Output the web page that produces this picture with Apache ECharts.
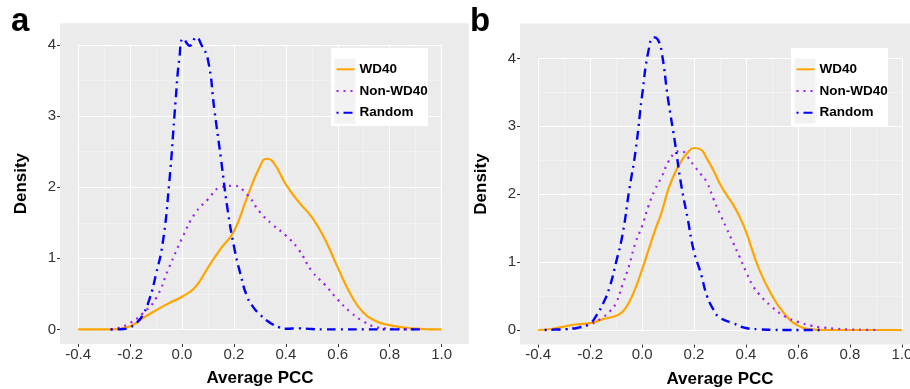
<!DOCTYPE html>
<html><head><meta charset="utf-8">
<script src="https://cdn.jsdelivr.net/npm/echarts@6/dist/echarts.min.js"></script>
<style>html,body{margin:0;padding:0;background:#fff}#c{width:910px;height:389px}</style>
</head><body><div id="c"></div>
<script>
// ---- data ----
const seriesNames = ['WD40', 'Non-WD40', 'Random'];
const xTicks = [-0.4, -0.2, 0, 0.2, 0.4, 0.6, 0.8, 1.0];
const yTicks = [0, 1, 2, 3, 4];
const panelLabels = ['a', 'b'];
const xTitle = 'Average PCC';
const yTitle = 'Density';

// panel a
const aWD40X = [-0.4,-0.35,-0.3,-0.25,-0.2,-0.15,-0.1,-0.05,0,0.05,0.1,0.15,0.2,0.25,0.3,0.325,0.35,0.4,0.45,0.5,0.55,0.6,0.65,0.7,0.75,0.8,0.85,0.9,0.95,1.0];
const aWD40Y = [0,0,0,0.005,0.045,0.16,0.27,0.37,0.46,0.59,0.87,1.14,1.38,1.85,2.29,2.40,2.36,2.04,1.79,1.58,1.27,0.87,0.49,0.23,0.11,0.06,0.03,0.01,0.002,0];
const aNonX = [-0.275,-0.25,-0.2,-0.15,-0.1,-0.05,0,0.05,0.1,0.15,0.2,0.25,0.3,0.35,0.4,0.45,0.5,0.55,0.6,0.65,0.7,0.75,0.8,0.85,0.9];
const aNonY = [0,0.015,0.09,0.23,0.44,0.87,1.28,1.63,1.83,2.0,2.02,1.9,1.65,1.47,1.32,1.12,0.82,0.63,0.42,0.24,0.11,0.03,0.01,0.003,0];
const aRandX = [-0.275,-0.25,-0.225,-0.2,-0.175,-0.15,-0.125,-0.1,-0.075,-0.05,-0.025,-0.01,0.005,0.03,0.055,0.075,0.1,0.125,0.15,0.175,0.2,0.225,0.25,0.275,0.3,0.325,0.35,0.375,0.4,0.45,0.5,0.55,0.6,0.7,0.8,0.9,0.925];
const aRandY = [0,0,0.005,0.03,0.09,0.21,0.43,0.78,1.2,2.03,3.2,3.82,4.09,3.99,4.11,4.0,3.79,3.08,2.4,1.7,1.17,0.78,0.47,0.31,0.21,0.13,0.07,0.03,0.01,0.015,0.005,0,0,0,0,0,0];

// panel b
const bWD40X = [-0.4,-0.35,-0.3,-0.25,-0.2,-0.15,-0.1,-0.075,-0.05,-0.025,0,0.025,0.05,0.075,0.1,0.125,0.15,0.175,0.2,0.225,0.25,0.275,0.3,0.325,0.35,0.375,0.4,0.45,0.5,0.55,0.6,0.65,0.7,0.8,0.9,1.0];
const bWD40Y = [0,0.015,0.05,0.085,0.1,0.16,0.21,0.27,0.41,0.62,0.89,1.18,1.47,1.73,2.06,2.3,2.48,2.61,2.68,2.66,2.52,2.35,2.15,1.99,1.85,1.67,1.45,0.9,0.51,0.23,0.065,0.01,0,0,0,0];
const bNonX = [-0.35,-0.3,-0.25,-0.2,-0.15,-0.125,-0.1,-0.075,-0.05,-0.025,0,0.025,0.05,0.075,0.1,0.125,0.15,0.175,0.2,0.225,0.25,0.275,0.3,0.325,0.35,0.375,0.4,0.425,0.45,0.5,0.55,0.6,0.65,0.7,0.75,0.8,0.85,0.9];
const bNonY = [0,0.01,0.04,0.08,0.19,0.27,0.4,0.67,0.95,1.29,1.53,1.83,2.07,2.25,2.47,2.6,2.64,2.55,2.42,2.3,2.17,1.93,1.71,1.5,1.29,1.08,0.86,0.665,0.53,0.34,0.2,0.12,0.065,0.035,0.017,0.008,0.003,0];
const bRandX = [-0.375,-0.35,-0.3,-0.25,-0.2,-0.175,-0.15,-0.125,-0.1,-0.075,-0.05,-0.025,0,0.025,0.045,0.06,0.075,0.1,0.125,0.15,0.175,0.2,0.225,0.25,0.275,0.3,0.35,0.4,0.45,0.5,0.55,0.6,0.7];
const bRandY = [0,0.005,0.01,0.03,0.1,0.22,0.39,0.63,1.0,1.41,2.05,2.64,3.45,4.12,4.31,4.28,4.1,3.4,2.8,2.15,1.65,1.15,0.85,0.5,0.3,0.18,0.1,0.03,0.01,0.003,0,0,0];

// ---- styling / layout ----
const FONT = 'Liberation Sans, Arial, Helvetica, sans-serif';
const colors = ['#FFA500', '#A020F0', '#0000FF'];
const lineStyles = [
  {width: 2.2, type: 'solid'},
  {width: 2.2, type: [2, 5]},
  {width: 2.4, type: [2, 5, 9, 5]}
];
const panels = [
  {left: 60, top: 23.3, width: 409, height: 320.7, xmin: -0.47, xmax: 1.1055, ymin: -0.205, ymax: 4.305,
   data: [[aWD40X, aWD40Y], [aNonX, aNonY], [aRandX, aRandY]], legendLeft: 331, label: panelLabels[0], labelX: 11, namePad: [0, 9, 0, 0]},
  {left: 520, top: 23.4, width: 400, height: 321.2, xmin: -0.47, xmax: 1.07, ymin: -0.215, ymax: 4.515,
   data: [[bWD40X, bWD40Y], [bNonX, bNonY], [bRandX, bRandY]], legendLeft: 791, label: panelLabels[1], labelX: 470, namePad: [0, 0, 0, 0]}
];

const zip = (xs, ys) => xs.map((x, i) => [x, ys[i]]);

const grid = [], xAxis = [], yAxis = [], series = [], legend = [], graphic = [];
panels.forEach((p, pi) => {
  const outer = pi * 2, inner = pi * 2 + 1;
  grid.push({left: p.left, top: p.top, width: p.width, height: p.height, show: true,
    outerBoundsMode: 'none', containLabel: false,
    backgroundColor: '#EBEBEB', borderWidth: 0, z: 0});
  const x0 = xTicks[0], x1 = xTicks[xTicks.length - 1], y0 = yTicks[0], y1 = yTicks[yTicks.length - 1];
  grid.push({
    left: p.left + (x0 - p.xmin) / (p.xmax - p.xmin) * p.width,
    width: (x1 - x0) / (p.xmax - p.xmin) * p.width,
    top: p.top + (p.ymax - y1) / (p.ymax - p.ymin) * p.height,
    height: (y1 - y0) / (p.ymax - p.ymin) * p.height,
    outerBoundsMode: 'none', containLabel: false,
    show: false
  });
  xAxis.push({gridIndex: outer, type: 'value', min: p.xmin, max: p.xmax, position: 'bottom',
    axisLine: {show: false, onZero: false},
    axisTick: {show: true, length: 3, customValues: xTicks, lineStyle: {color: '#333', width: 1}},
    axisLabel: {customValues: xTicks, formatter: v => Number(v).toFixed(1), fontSize: 15, color: '#333', margin: 3, fontFamily: FONT},
    splitLine: {show: false},
    name: xTitle, nameLocation: 'middle', nameGap: 26,
    nameTextStyle: {fontWeight: 'bold', fontSize: 17, color: '#000', fontFamily: FONT, padding: p.namePad}
  });
  xAxis.push({gridIndex: inner, type: 'value', min: x0, max: x1, interval: 0.2, z: 1,
    axisLine: {show: false, onZero: false}, axisTick: {show: false}, axisLabel: {show: false},
    splitLine: {show: true, lineStyle: {color: '#FFFFFF', width: 1.1}},
    minorTick: {show: false, splitNumber: 2},
    minorSplitLine: {show: true, lineStyle: {color: '#F6F6F6', width: 0.6}}
  });
  yAxis.push({gridIndex: outer, type: 'value', min: p.ymin, max: p.ymax, position: 'left',
    axisLine: {show: false, onZero: false},
    axisTick: {show: true, length: 3, customValues: yTicks, lineStyle: {color: '#333', width: 1}},
    axisLabel: {customValues: yTicks, formatter: v => String(Math.round(v)), fontSize: 15, color: '#333', margin: 4, fontFamily: FONT},
    splitLine: {show: false},
    name: yTitle, nameLocation: 'middle', nameGap: 30,
    nameTextStyle: {fontWeight: 'bold', fontSize: 17, color: '#000', fontFamily: FONT}
  });
  yAxis.push({gridIndex: inner, type: 'value', min: y0, max: y1, interval: 1, z: 1,
    axisLine: {show: false, onZero: false}, axisTick: {show: false}, axisLabel: {show: false},
    splitLine: {show: true, lineStyle: {color: '#FFFFFF', width: 1.1}},
    minorTick: {show: false, splitNumber: 2},
    minorSplitLine: {show: true, lineStyle: {color: '#F6F6F6', width: 0.6}}
  });
  p.data.forEach((d, si) => {
    series.push({name: seriesNames[si], type: 'line', xAxisIndex: outer, yAxisIndex: outer,
      data: zip(d[0], d[1]), symbol: 'none', showSymbol: false, smooth: 0.5,
      z: 2, silent: true, animation: false,
      itemStyle: {color: colors[si]},
      lineStyle: Object.assign({color: colors[si], cap: 'butt'}, lineStyles[si])
    });
  });
  // legend box + key backgrounds
  graphic.push({type: 'rect', z: 3, shape: {x: p.legendLeft, y: 48, width: 97, height: 78}, style: {fill: '#FFFFFF'}});
  for (let k = 0; k < 3; k++) {
    graphic.push({type: 'rect', z: 3, shape: {x: p.legendLeft + 3.5, y: 58.5 + k * 21.7, width: 21, height: 21.7}, style: {fill: '#F2F2F2'}});
  }
  graphic.push({type: 'text', z: 5, x: p.labelX, y: 22,
    style: {text: p.label, font: 'bold 33px ' + FONT, fill: '#000', verticalAlign: 'middle', align: 'left'}});
  legend.push({data: seriesNames, orient: 'vertical', left: p.legendLeft + 4.5, top: 62.3, padding: 0,
    itemWidth: 18, itemHeight: 14, itemGap: 7.7, selectedMode: false, z: 4,
    itemStyle: {opacity: 0},
    textStyle: {fontSize: 13.5, fontWeight: 'bold', color: '#000', fontFamily: FONT}});
});

const chart = echarts.init(document.getElementById('c'), null, {renderer: 'canvas'});
chart.setOption({animation: false, backgroundColor: '#FFFFFF', grid, xAxis, yAxis, series, legend, graphic});
</script></body></html>
